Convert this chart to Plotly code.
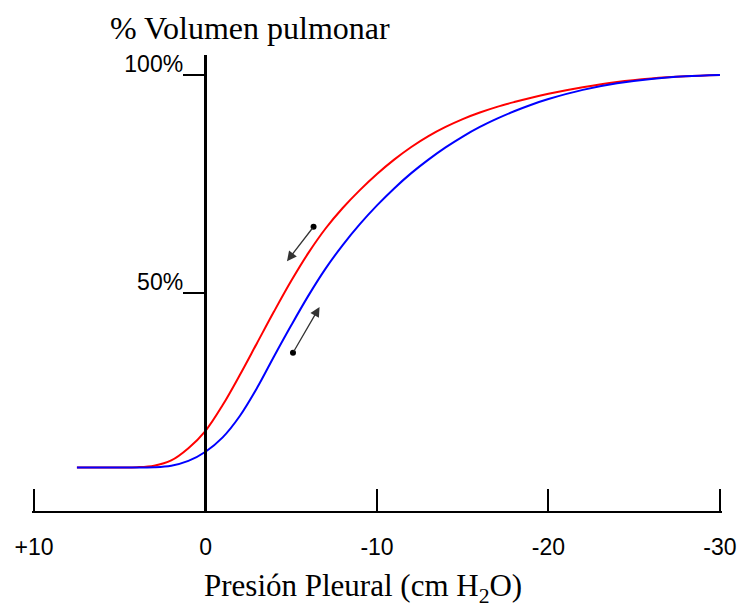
import plotly.graph_objects as go

# Pressure (cm H2O) and lung volume (%)
red_p = [7.5, 5.0, 4.0, 3.0, 2.0, 1.0, 0.0, -1.0, -2.0, -3.0, -4.0, -5.0, -6.0, -7.0, -8.0,
         -9.0, -10.0, -11.0, -12.0, -13.0, -14.0, -15.0, -16.0, -17.0, -18.0, -19.0, -20.0,
         -22.0, -24.0, -26.0, -28.0, -30.0]
red_v = [10.0, 10.0, 10.05, 10.4, 11.6, 14.4, 18.4, 24.3, 31.2, 38.5, 45.8, 52.8, 59.2, 64.8, 69.5,
         73.6, 77.3, 80.6, 83.5, 86.0, 88.1, 89.9, 91.4, 92.7, 93.8, 94.8, 95.7,
         97.2, 98.4, 99.2, 99.7, 100.0]

blue_p = [7.5, 5.0, 3.0, 2.0, 1.0, 0.0, -1.0, -2.0, -3.0, -4.0, -5.0, -6.0, -7.0, -8.0,
          -9.0, -10.0, -11.0, -12.0, -13.0, -14.0, -15.0, -16.0, -17.0, -18.0, -19.0, -20.0,
          -22.0, -24.0, -26.0, -28.0, -30.0]
blue_v = [10.0, 10.0, 10.05, 10.4, 11.5, 13.6, 16.9, 21.8, 28.2, 35.5, 42.6, 49.4, 55.6, 61.0,
          65.8, 70.1, 74.0, 77.5, 80.6, 83.4, 85.9, 88.1, 90.0, 91.7, 93.2, 94.5,
          96.6, 98.1, 99.1, 99.7, 100.0]

# arrows: tail and head positions
arrow_tail_p = [-6.3, -5.10]
arrow_tail_v = [65.2, 36.3]
arrow_head_p = [-4.75, -6.65]
arrow_head_v = [57.3, 46.8]

x_tickvals = [10, 0, -10, -20, -30]
x_ticktext = ["+10", "0", "-10", "-20", "-30"]
y_tickvals = [50, 100]
y_ticktext = ["50%", "100%"]

x_title = "Presión Pleural (cm H<sub>2</sub>O)"
y_title = "% Volumen pulmonar"

fig = go.Figure()
fig.add_trace(go.Scatter(x=red_p, y=red_v, mode="lines",
                         line=dict(color="#ff0000", width=2, shape="spline", smoothing=1.0),
                         showlegend=False, hoverinfo="skip"))
fig.add_trace(go.Scatter(x=blue_p, y=blue_v, mode="lines",
                         line=dict(color="#0000ff", width=2, shape="spline", smoothing=1.0),
                         showlegend=False, hoverinfo="skip"))
fig.add_trace(go.Scatter(x=arrow_tail_p, y=arrow_tail_v, mode="markers",
                         marker=dict(color="black", size=6), showlegend=False, hoverinfo="skip"))

for tp, tv, hp, hv in zip(arrow_tail_p, arrow_tail_v, arrow_head_p, arrow_head_v):
    fig.add_annotation(x=hp, y=hv, ax=tp, ay=tv, xref="x", yref="y", axref="x", ayref="y",
                       text="", showarrow=True, arrowhead=2, arrowsize=1.5,
                       arrowwidth=1.3, arrowcolor="#333333")

fig.add_annotation(text=y_title, xref="paper", yref="paper", x=0.316, y=1.0,
                   yshift=27, xanchor="center", yanchor="middle", showarrow=False,
                   font=dict(family="Liberation Serif", size=32, color="black"))
fig.add_annotation(text=x_title, xref="paper", yref="paper", x=0.48, y=0,
                   yshift=-77, xanchor="center", yanchor="middle", showarrow=False,
                   font=dict(family="Liberation Serif", size=31, color="black"))

fig.update_layout(
    width=742, height=607,
    margin=dict(l=32, r=20, t=55, b=96, autoexpand=False),
    paper_bgcolor="white", plot_bgcolor="white",
    xaxis=dict(range=[10.12, -30.12], showgrid=False, zeroline=False, automargin=False,
               showline=True, linecolor="black", linewidth=2,
               ticks="inside", ticklen=22, tickwidth=2, tickcolor="black",
               tickvals=x_tickvals, ticktext=x_ticktext, ticklabelstandoff=14,
               tickfont=dict(family="Liberation Sans", size=23, color="black")),
    yaxis=dict(range=[0, 104.6], showgrid=False, zeroline=False, automargin=False,
               anchor="free", position=0.25,
               showline=True, linecolor="black", linewidth=2.5,
               ticks="outside", ticklen=21, tickwidth=2, tickcolor="black",
               tickvals=y_tickvals, ticktext=y_ticktext,
               ticklabelposition="outside top", ticklabelstandoff=16, ticklabelshift=6,
               tickfont=dict(family="Liberation Sans", size=23, color="black")),
)

fig.write_html("out.html")
